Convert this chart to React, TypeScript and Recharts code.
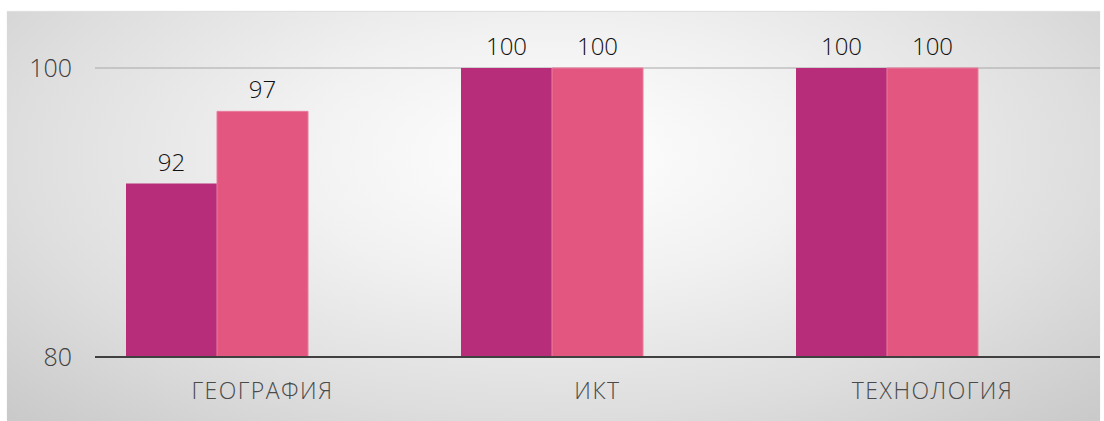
import { BarChart, Bar, XAxis, YAxis, CartesianGrid, LabelList } from "recharts";

const categories = ["ГЕОГРАФИЯ", "ИКТ", "ТЕХНОЛОГИЯ"];
const seriesA = [92, 100, 100];
const seriesB = [97, 100, 100];
// third series is empty in the source, but it still reserves its slot
const seriesC: (number | null)[] = [null, null, null];
const yTicks = [80, 100];

const data = categories.map((name, i) => ({
  name,
  a: seriesA[i],
  b: seriesB[i],
  c: seriesC[i],
}));

const FONT = "'Open Sans', 'DejaVu Sans', sans-serif";

export default function App() {
  return (
    <div
      style={{
        position: "fixed",
        left: 0,
        top: 0,
        width: 1104,
        height: 421,
        background: "#fff",
        fontFamily: FONT,
      }}
    >
      <div
        style={{
          position: "absolute",
          left: 7,
          top: 12,
          width: 1093,
          height: 409,
          background:
            "radial-gradient(ellipse 70% 90% at 50% 35%, #ffffff 0%, #f1f1f1 35%, #dedede 70%, #cacaca 100%)",
          boxShadow: "0 -1px 1px rgba(0,0,0,0.12)",
        }}
      />
      <div style={{ position: "absolute", left: 0, top: 0 }}>
        <BarChart
          width={1104}
          height={421}
          data={data}
          margin={{ top: 68, right: 4, bottom: 14, left: 35 }}
          barSize={91}
          barGap={0}
        >
          <CartesianGrid vertical={false} stroke="#a8a8a8" strokeWidth={1} />
          <XAxis
            dataKey="name"
            height={50}
            tickLine={false}
            tickSize={0}
            tickMargin={26}
            axisLine={{ stroke: "#404040", strokeWidth: 2 }}
            tick={{
              fontSize: 23,
              fill: "#4a4a4a",
              fontFamily: FONT,
              fontWeight: 300,
              letterSpacing: 1.5,
            }}
          />
          <YAxis
            width={60}
            domain={[80, 100]}
            ticks={yTicks}
            axisLine={false}
            tickLine={false}
            tickSize={0}
            tickMargin={23}
            tick={{ fontSize: 25, fill: "#404040", fontFamily: FONT, fontWeight: 300 }}
          />
          <Bar dataKey="a" fill="#b82d79" isAnimationActive={false}>
            <LabelList
              dataKey="a"
              position="top"
              offset={13}
              fill="#111111"
              fontSize={24}
              fontFamily={FONT}
              fontWeight={300}
            />
          </Bar>
          <Bar dataKey="b" fill="#e25680" stroke="#ea7c9e" strokeWidth={1} isAnimationActive={false}>
            <LabelList
              dataKey="b"
              position="top"
              offset={13}
              fill="#111111"
              fontSize={24}
              fontFamily={FONT}
              fontWeight={300}
            />
          </Bar>
          <Bar dataKey="c" fill="#e88aa0" isAnimationActive={false} />
        </BarChart>
      </div>
    </div>
  );
}
